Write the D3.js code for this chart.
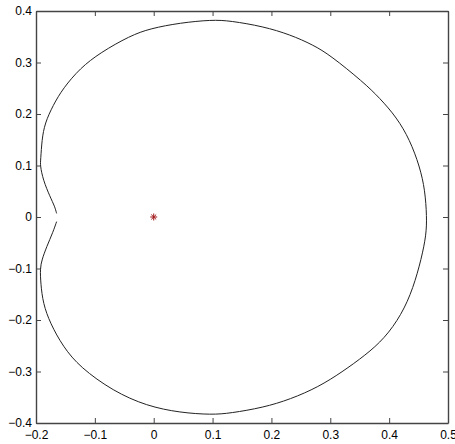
<!DOCTYPE html>
<html>
<head>
<meta charset="utf-8">
<script src="https://cdn.jsdelivr.net/npm/d3@7"></script>
<style>
  body { margin: 0; background: #fff; }
  text { font-family: Arial, "Liberation Sans", sans-serif; font-size: 12px; fill: #000; }
</style>
</head>
<body>
<script>
// curve points, from the upper end of the gap round to the lower end
const curveX = [-0.165, -0.168, -0.176, -0.188, -0.193, -0.192, -0.190, -0.185, -0.171, -0.154,
  -0.125, -0.091, -0.040, -0.006, 0.045, 0.099, 0.130, 0.186, 0.232, 0.271, 0.300, 0.356,
  0.384, 0.413, 0.435, 0.452, 0.461, 0.464, 0.463, 0.455, 0.441, 0.421, 0.392, 0.360, 0.320,
  0.280, 0.232, 0.186, 0.130, 0.099, 0.045, -0.012, -0.069, -0.125, -0.154, -0.176, -0.188,
  -0.192, -0.193, -0.190, -0.182, -0.171, -0.165]
const curveY = [0.007, 0.020, 0.039, 0.072, 0.101, 0.111, 0.150, 0.182, 0.217, 0.250,
  0.289, 0.319, 0.352, 0.366, 0.377, 0.383, 0.381, 0.370, 0.354, 0.334, 0.314, 0.262,
  0.231, 0.193, 0.150, 0.098, 0.052, 0.000, -0.035, -0.080, -0.138, -0.190, -0.236, -0.268, -0.301,
  -0.330, -0.354, -0.370, -0.381, -0.384, -0.380, -0.367, -0.338, -0.292, -0.252, -0.206, -0.168,
  -0.129, -0.100, -0.083, -0.058, -0.029, -0.009]

const pointX = [0]
const pointY = [0]

const xTicks = [-0.2, -0.1, 0, 0.1, 0.2, 0.3, 0.4, 0.5]
const yTicks = [-0.4, -0.3, -0.2, -0.1, 0, 0.1, 0.2, 0.3, 0.4]

const W = 455, H = 444
const box = { left: 36, top: 11, right: 448, bottom: 423 }

const svg = d3.select('body').append('svg')
  .attr('width', W)
  .attr('height', H)

const x = d3.scaleLinear().domain([-0.2, 0.5]).range([box.left, box.right])
const y = d3.scaleLinear().domain([-0.4, 0.4]).range([box.bottom, box.top])

const fmt = d => d === 0 ? '0' : d3.format('.1f')(d)
const tickLen = 5

// axes, ticks inside on all four sides like matlab's box
svg.append('g')
  .attr('transform', `translate(0,${box.bottom})`)
  .call(d3.axisBottom(x).tickValues(xTicks).tickFormat(fmt).tickSizeInner(-tickLen).tickSizeOuter(0).tickPadding(7))
svg.append('g')
  .attr('transform', `translate(${box.left},0)`)
  .call(d3.axisLeft(y).tickValues(yTicks).tickFormat(fmt).tickSizeInner(-tickLen).tickSizeOuter(0).tickPadding(4))
svg.append('g')
  .attr('transform', `translate(0,${box.top})`)
  .call(d3.axisTop(x).tickValues(xTicks).tickFormat('').tickSizeInner(-tickLen).tickSizeOuter(0))
svg.append('g')
  .attr('transform', `translate(${box.right},0)`)
  .call(d3.axisRight(y).tickValues(yTicks).tickFormat('').tickSizeInner(-tickLen).tickSizeOuter(0))

svg.selectAll('.domain').attr('stroke', '#444').attr('stroke-width', 1.4)
svg.selectAll('.tick line').attr('stroke', '#444')
svg.selectAll('.tick text').attr('font-size', 12).attr('fill', '#000')
  .attr('font-family', 'Arial, "Liberation Sans", sans-serif')

const pts = curveX.map((d, i) => [d, curveY[i]])
const line = d3.line()
  .x(d => x(d[0]))
  .y(d => y(d[1]))
  .curve(d3.curveBasis)

svg.append('path')
  .datum(pts)
  .attr('d', line)
  .attr('fill', 'none')
  .attr('stroke', '#222')
  .attr('stroke-width', 1)

// asterisk marker
const star = svg.append('g')
pointX.forEach((px, i) => {
  const cx = x(px), cy = y(pointY[i]), r = 3.5
  const g = star.append('g').attr('stroke', '#a01818').attr('stroke-width', 1)
  g.append('line').attr('x1', cx - r).attr('x2', cx + r).attr('y1', cy).attr('y2', cy)
  g.append('line').attr('x1', cx).attr('x2', cx).attr('y1', cy - r).attr('y2', cy + r)
  g.append('line').attr('x1', cx - r * 0.7).attr('x2', cx + r * 0.7).attr('y1', cy - r * 0.7).attr('y2', cy + r * 0.7)
  g.append('line').attr('x1', cx - r * 0.7).attr('x2', cx + r * 0.7).attr('y1', cy + r * 0.7).attr('y2', cy - r * 0.7)
})
</script>
</body>
</html>
